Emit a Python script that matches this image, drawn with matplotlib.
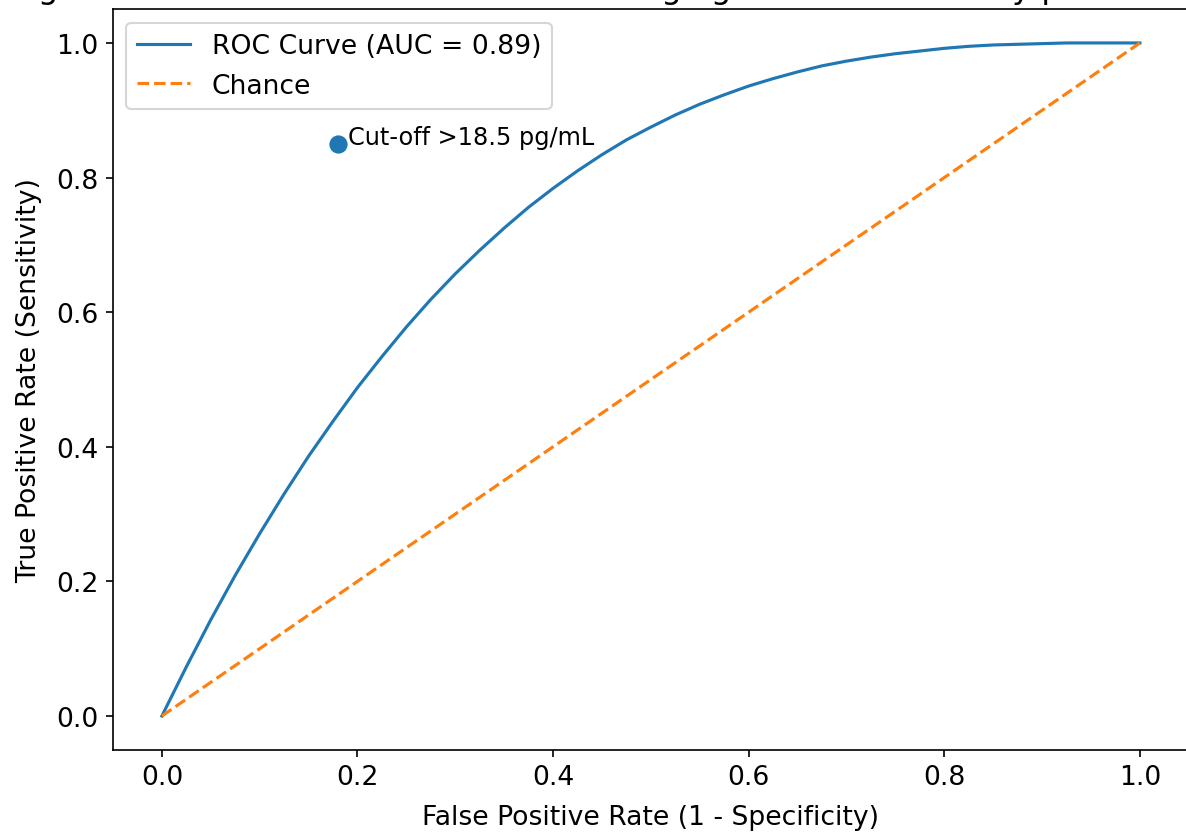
import matplotlib
matplotlib.use('Agg')
import matplotlib.pyplot as plt

# ROC curve
fpr = [0.0, 0.025, 0.05, 0.075, 0.10, 0.125, 0.15, 0.175, 0.20, 0.225, 0.25,
       0.275, 0.30, 0.325, 0.35, 0.375, 0.40, 0.425, 0.45, 0.475, 0.50,
       0.525, 0.55, 0.575, 0.60, 0.625, 0.65, 0.675, 0.70, 0.725, 0.75,
       0.775, 0.80, 0.825, 0.85, 0.875, 0.90, 0.925, 0.95, 0.975, 1.0]
tpr = [0.0, 0.073, 0.143, 0.209, 0.271, 0.330, 0.386, 0.438, 0.488, 0.534, 0.578,
       0.619, 0.657, 0.692, 0.725, 0.756, 0.784, 0.810, 0.834, 0.856, 0.875,
       0.893, 0.909, 0.923, 0.936, 0.947, 0.957, 0.966, 0.973, 0.979, 0.984,
       0.988, 0.992, 0.995, 0.997, 0.998, 0.999, 1.0, 1.0, 1.0, 1.0]
chance = [0.0, 1.0]
auc = 0.89
cutoff_fpr = 0.18
cutoff_tpr = 0.85
cutoff_label = 'Cut-off >18.5 pg/mL'
# only the lowest pixels of the title are left in the picture
title = 'Figure 2: ROC Curve for NfL in Neuroimaging Brain Abnormality per CT Findings'

plt.rcParams['font.size'] = 12.8

fig = plt.figure(figsize=(1186 / 150, 834 / 150), dpi=150)
# the original picture is cropped on the top and right, so the axes run past the edge
ax = fig.add_axes([113 / 1186, 83.4 / 834, 1075.8 / 1186, 740.3 / 834])

ax.plot(fpr, tpr, linewidth=1.5, label=f'ROC Curve (AUC = {auc:.2f})')
ax.plot(chance, chance, linestyle='--', linewidth=1.5, label='Chance')
ax.scatter([cutoff_fpr], [cutoff_tpr], s=60, zorder=3)
ax.text(cutoff_fpr + 0.01, cutoff_tpr, cutoff_label, fontsize=11.5)

ax.set_xlim(-0.05, 1.05)
ax.set_ylim(-0.05, 1.05)
ax.set_xlabel('False Positive Rate (1 - Specificity)', labelpad=6.5)
ax.set_ylabel('True Positive Rate (Sensitivity)', labelpad=6.5)
ax.set_title(title, fontsize=15.4)
ax.legend(loc='upper left')

fig.savefig('out.png', dpi=150)
